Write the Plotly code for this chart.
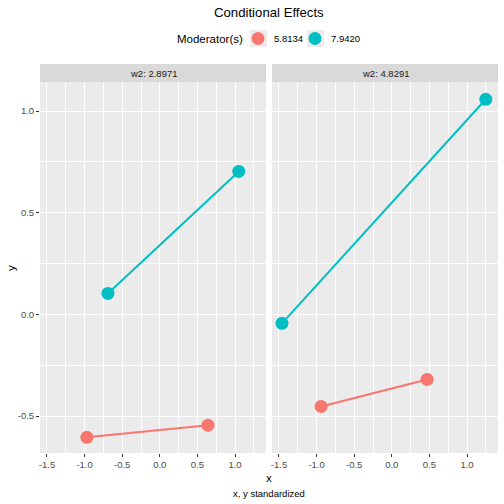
import plotly.graph_objects as go

panels = ["w2: 2.8971", "w2: 4.8291"]
moderators = ["5.8134", "7.9420"]
colors = {"5.8134": "#F8766D", "7.9420": "#00BFC4"}
x_vals = {
    ("w2: 2.8971", "5.8134"): [-0.97, 0.64],
    ("w2: 2.8971", "7.9420"): [-0.69, 1.05],
    ("w2: 4.8291", "5.8134"): [-0.94, 0.47],
    ("w2: 4.8291", "7.9420"): [-1.46, 1.25],
}
y_vals = {
    ("w2: 2.8971", "5.8134"): [-0.605, -0.545],
    ("w2: 2.8971", "7.9420"): [0.103, 0.703],
    ("w2: 4.8291", "5.8134"): [-0.453, -0.320],
    ("w2: 4.8291", "7.9420"): [-0.044, 1.058],
}
x_ticks = [-1.5, -1.0, -0.5, 0.0, 0.5, 1.0]
y_ticks = [-0.5, 0.0, 0.5, 1.0]

W = H = 504
FONT = "Liberation Sans, Arial"
fig = go.Figure()
for i, p in enumerate(panels):
    xa = "x" if i == 0 else "x2"
    ya = "y" if i == 0 else "y2"
    for m in moderators:
        fig.add_trace(go.Scatter(
            x=x_vals[(p, m)], y=y_vals[(p, m)], mode="lines+markers",
            line=dict(color=colors[m], width=2),
            marker=dict(color=colors[m], size=13),
            name=m, legendgroup=m, showlegend=False,
            xaxis=xa, yaxis=ya))

ydom = [(H - 453) / H, (H - 82) / H]
xdoms = [[40 / W, 266 / W], [272 / W, 498 / W]]
axcommon = dict(
    showgrid=True, gridcolor="white", gridwidth=1.1,
    zeroline=False, showline=False,
    ticks="outside", ticklen=3, tickcolor="#333333", tickwidth=1,
    tickfont=dict(family=FONT, size=9.5, color="#4D4D4D"),
)
xrange = [-1.593, 1.412]
yrange = [-0.682, 1.143]
xminor = dict(tickvals=[-1.25, -0.75, -0.25, 0.25, 0.75, 1.25], showgrid=True, gridcolor="white", gridwidth=0.5, ticks="")
yminor = dict(tickvals=[-0.25, 0.25, 0.75], showgrid=True, gridcolor="white", gridwidth=0.5, ticks="")
fig.update_layout(
    xaxis=dict(domain=xdoms[0], range=xrange, tickvals=x_ticks,
               ticktext=[f"{v:.1f}" for v in x_ticks], minor=xminor,
               anchor="y", **axcommon),
    xaxis2=dict(domain=xdoms[1], range=xrange, tickvals=x_ticks,
                ticktext=[f"{v:.1f}" for v in x_ticks], minor=xminor,
                anchor="y2", **axcommon),
    yaxis=dict(domain=ydom, range=yrange, tickvals=y_ticks,
               ticktext=[f"{v:.1f}" for v in y_ticks], minor=yminor,
               anchor="x", **axcommon),
    yaxis2=dict(domain=ydom, range=yrange, tickvals=y_ticks, showticklabels=False,
                minor=yminor, anchor="x2",
                **{k: v for k, v in axcommon.items() if k != "ticks"}, ticks=""),
    plot_bgcolor="#EBEBEB", paper_bgcolor="white",
    width=W, height=H, margin=dict(l=0, r=0, t=0, b=0),
    font=dict(family=FONT, color="black"),
    showlegend=False,
)

def px(xp):
    return xp / W

def py(yp):
    return (H - yp) / H

shapes = []
annotations = []
for i, p in enumerate(panels):
    shapes.append(dict(type="rect", xref="paper", yref="paper",
                       x0=xdoms[i][0], x1=xdoms[i][1], y0=py(82), y1=py(64),
                       fillcolor="#D9D9D9", line=dict(width=0)))
    annotations.append(dict(text=p, xref="paper", yref="paper",
                            x=(xdoms[i][0] + xdoms[i][1]) / 2, y=py(73),
                            showarrow=False, font=dict(size=9.5, color="#1A1A1A"),
                            xanchor="center", yanchor="middle"))

# manual legend (ggplot style: keys in grey boxes)
legend_title_right = 245
key_lefts = [250, 307]
annotations.append(dict(text="Moderator(s)", xref="paper", yref="paper",
                        x=px(legend_title_right), y=py(39), showarrow=False,
                        font=dict(size=11.5), xanchor="right", yanchor="middle"))
for m, kl in zip(moderators, key_lefts):
    shapes.append(dict(type="rect", xref="paper", yref="paper",
                       x0=px(kl), x1=px(kl + 17), y0=py(47), y1=py(30),
                       fillcolor="#EBEBEB", line=dict(width=0)))
    shapes.append(dict(type="circle", xref="paper", yref="paper",
                       xsizemode="pixel", ysizemode="pixel",
                       xanchor=px(kl + 8), yanchor=py(38.5),
                       x0=-6.5, x1=6.5, y0=-6.5, y1=6.5,
                       fillcolor=colors[m], line=dict(width=0)))
    annotations.append(dict(text=m, xref="paper", yref="paper",
                            x=px(kl + 22), y=py(39), showarrow=False,
                            font=dict(size=9.5), xanchor="left", yanchor="middle"))

annotations.append(dict(text="Conditional Effects", xref="paper", yref="paper",
                        x=(40 + 498) / 2 / W, y=py(12.5), showarrow=False,
                        font=dict(size=13.2), xanchor="center", yanchor="middle"))
annotations.append(dict(text="x", xref="paper", yref="paper",
                        x=(40 + 498) / 2 / W, y=py(478), showarrow=False,
                        font=dict(size=11.5), xanchor="center", yanchor="middle"))
annotations.append(dict(text="x, y standardized", xref="paper", yref="paper",
                        x=(40 + 498) / 2 / W, y=py(493.5), showarrow=False,
                        font=dict(size=9.5), xanchor="center", yanchor="middle"))
annotations.append(dict(text="y", xref="paper", yref="paper",
                        x=px(11), y=py(268), showarrow=False, textangle=-90,
                        font=dict(size=11.5), xanchor="center", yanchor="middle"))
fig.update_layout(shapes=shapes, annotations=annotations)
fig.write_html("out.html")
